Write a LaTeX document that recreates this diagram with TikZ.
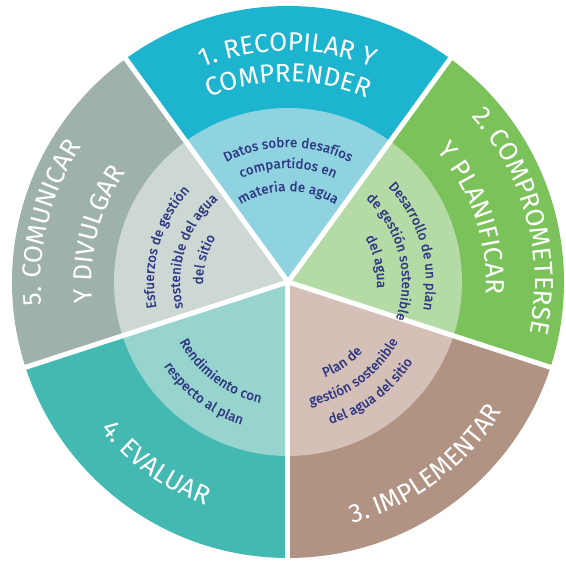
\documentclass[tikz,border=0pt]{standalone}
\usepackage{fontspec}
\usetikzlibrary{decorations.text}
\newfontfamily\labfont{Fira Sans}
\newfontfamily\inlabfont[FakeBold=1.2]{Fira Sans}
\definecolor{c1o}{HTML}{1DB4CF}
\definecolor{c1i}{HTML}{8FD3E0}
\definecolor{c2o}{HTML}{7CC25A}
\definecolor{c2i}{HTML}{B4DBA6}
\definecolor{c3o}{HTML}{B19383}
\definecolor{c3i}{HTML}{D5C0B8}
\definecolor{c4o}{HTML}{44B9B2}
\definecolor{c4i}{HTML}{96D4CD}
\definecolor{c5o}{HTML}{9FB1AD}
\definecolor{c5i}{HTML}{CDD7D3}
\definecolor{navy}{HTML}{2E3782}
\newcommand\outerfmt{\labfont\fontsize{26}{30}\selectfont\color{white}}
\newcommand\innerfmt{\inlabfont\fontsize{13.5}{16}\selectfont\color{navy}}
% clockwise label (tops outward): center angle, baseline radius, format, text
\newcommand\cwlabel[4]{%
  \path[decorate,decoration={text along path,text align=center,text={|#3|#4}}]
    ({#1+80}:#2) arc[start angle={#1+80},end angle={#1-80},radius=#2];}
% counter-clockwise label (tops inward)
\newcommand\ccwlabel[4]{%
  \path[decorate,decoration={text along path,text align=center,text={|#3|#4}}]
    ({#1-80}:#2) arc[start angle={#1-80},end angle={#1+80},radius=#2];}
\newcommand\sector[3]{% center angle, outer colour, inner colour
  \fill[#2] (0,0) -- ({#1-36}:276) arc[start angle={#1-36},end angle={#1+36},radius=276] -- cycle;
  \fill[#3] (0,0) -- ({#1-36}:174) arc[start angle={#1-36},end angle={#1+36},radius=174] -- cycle;}
\begin{document}
\begin{tikzpicture}[x=1pt,y=1pt,divider/.style={white,line width=5pt}]
\useasboundingbox (-288,-282) rectangle (278,282);
\sector{90}{c1o}{c1i}
\sector{18}{c2o}{c2i}
\sector{-54}{c3o}{c3i}
\sector{-126}{c4o}{c4i}
\sector{162}{c5o}{c5i}
\foreach \a in {54,-18,-90,-162,126}
  \draw[divider] (0,0) -- (\a:280);
% outer labels
\cwlabel{90}{231}{\outerfmt}{1. RECOPILAR Y}
\cwlabel{90}{200}{\outerfmt}{COMPRENDER}
\cwlabel{15}{247}{\outerfmt}{2. COMPROMETERSE}
\cwlabel{19}{198}{\outerfmt}{Y PLANIFICAR}
\ccwlabel{-53}{250}{\outerfmt}{3. IMPLEMENTAR}
\ccwlabel{-126}{238}{\outerfmt}{4. EVALUAR}
\cwlabel{166}{247}{\outerfmt}{5. COMUNICAR}
\cwlabel{166}{196}{\outerfmt}{Y DIVULGAR}
% inner labels
\cwlabel{90}{135}{\innerfmt}{Datos sobre desafíos}
\cwlabel{90}{114}{\innerfmt}{compartidos en}
\cwlabel{90}{91}{\innerfmt}{materia de agua}
\cwlabel{16}{138}{\innerfmt}{Desarrollo de un plan}
\cwlabel{14}{114}{\innerfmt}{de gestión sostenible}
\cwlabel{13}{89}{\innerfmt}{del agua}
\ccwlabel{-56}{102}{\innerfmt}{Plan de}
\ccwlabel{-54}{125}{\innerfmt}{gestión sostenible}
\ccwlabel{-53}{148}{\innerfmt}{del agua del sitio}
\ccwlabel{-127}{124}{\innerfmt}{Rendimiento con}
\ccwlabel{-127}{150}{\innerfmt}{respecto al plan}
\cwlabel{164}{134}{\innerfmt}{Esfuerzos de gestión}
\cwlabel{162}{108}{\innerfmt}{sostenible del agua}
\cwlabel{165}{85}{\innerfmt}{del sitio}
\end{tikzpicture}
\end{document}
